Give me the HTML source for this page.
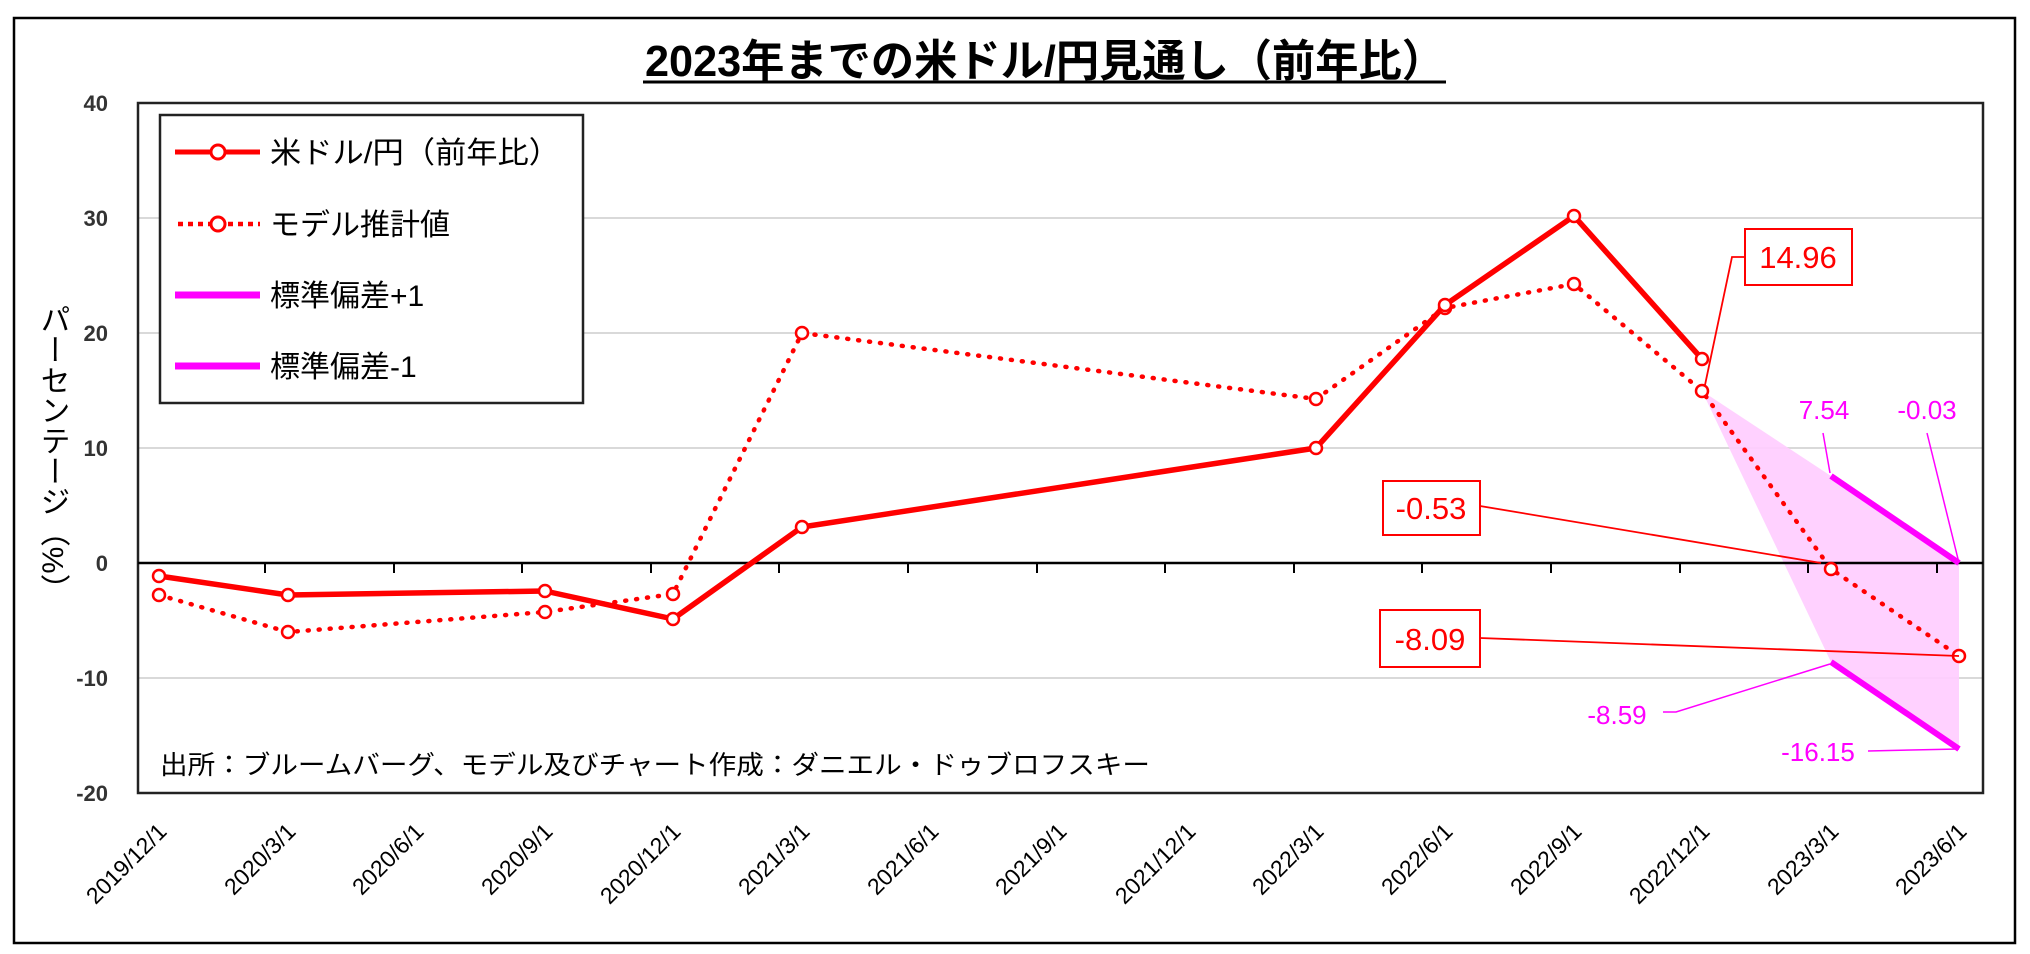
<!DOCTYPE html>
<html><head><meta charset="utf-8"><style>
html,body{margin:0;padding:0;background:#fff;}
svg{display:block;}
text{font-family:"Liberation Sans","Noto Sans CJK JP",sans-serif;}
</style></head><body>
<svg width="2030" height="954" viewBox="0 0 2030 954" xmlns="http://www.w3.org/2000/svg">
<rect x="0" y="0" width="2030" height="954" fill="#fff"/>
<rect x="14" y="18" width="2001" height="925" fill="none" stroke="#000" stroke-width="2.5"/>
<text x="1045" y="76" text-anchor="middle" font-size="44" font-weight="bold" textLength="800" lengthAdjust="spacingAndGlyphs">2023年までの米ドル/円見通し（前年比）</text>
<line x1="643" y1="82" x2="1446" y2="82" stroke="#000" stroke-width="3"/>
<g stroke="#d9d9d9" stroke-width="2">
<line x1="138" y1="218" x2="1983" y2="218"/>
<line x1="138" y1="333" x2="1983" y2="333"/>
<line x1="138" y1="448" x2="1983" y2="448"/>
<line x1="138" y1="678" x2="1983" y2="678"/>
</g>
<rect x="138" y="103" width="1845" height="690" fill="none" stroke="#222" stroke-width="2.5"/>
<g font-size="22" font-weight="bold" fill="#333" text-anchor="end">
<text x="108" y="111">40</text>
<text x="108" y="226">30</text>
<text x="108" y="341">20</text>
<text x="108" y="456">10</text>
<text x="108" y="571">0</text>
<text x="108" y="686">-10</text>
<text x="108" y="801">-20</text>
</g>
<text x="52" y="304" font-size="30" fill="#000" style="writing-mode:vertical-rl;writing-mode:tb" textLength="300" lengthAdjust="spacingAndGlyphs">パーセンテージ（%）</text>
<polygon points="1702,391 1831,476 1959,563 1959,749 1831,662" fill="#ffccff" opacity="0.9"/>
<line x1="138" y1="563" x2="1983" y2="563" stroke="#000" stroke-width="2.5"/>
<g stroke="#000" stroke-width="2">
<line x1="265" y1="563" x2="265" y2="573"/><line x1="394" y1="563" x2="394" y2="573"/><line x1="522" y1="563" x2="522" y2="573"/><line x1="651" y1="563" x2="651" y2="573"/><line x1="779" y1="563" x2="779" y2="573"/><line x1="908" y1="563" x2="908" y2="573"/><line x1="1037" y1="563" x2="1037" y2="573"/><line x1="1165" y1="563" x2="1165" y2="573"/><line x1="1294" y1="563" x2="1294" y2="573"/><line x1="1422" y1="563" x2="1422" y2="573"/><line x1="1551" y1="563" x2="1551" y2="573"/><line x1="1680" y1="563" x2="1680" y2="573"/><line x1="1808" y1="563" x2="1808" y2="573"/><line x1="1937" y1="563" x2="1937" y2="573"/>
</g>
<line x1="1831" y1="476" x2="1959" y2="563" stroke="#ff00ff" stroke-width="6"/>
<line x1="1831" y1="662" x2="1959" y2="749" stroke="#ff00ff" stroke-width="6"/>
<polyline points="159,595 288,632 545,612 673,594 802,333 1316,399 1445,308 1574,284 1702,391 1831,569 1959,656" fill="none" stroke="#ff0000" stroke-width="4.5" stroke-dasharray="1 10" stroke-linecap="round"/>
<polyline points="159,576 288,595 545,591 673,619 802,527 1316,448 1445,305 1574,216 1702,359" fill="none" stroke="#ff0000" stroke-width="5.5" stroke-linejoin="round"/>
<g fill="#fff" stroke="#ff0000" stroke-width="2.5">
<circle cx="159" cy="595" r="6"/><circle cx="288" cy="632" r="6"/><circle cx="545" cy="612" r="6"/><circle cx="673" cy="594" r="6"/><circle cx="802" cy="333" r="6"/><circle cx="1316" cy="399" r="6"/><circle cx="1445" cy="308" r="6"/><circle cx="1574" cy="284" r="6"/><circle cx="1702" cy="391" r="6"/><circle cx="1831" cy="569" r="6"/><circle cx="1959" cy="656" r="6"/>
<circle cx="159" cy="576" r="6"/><circle cx="288" cy="595" r="6"/><circle cx="545" cy="591" r="6"/><circle cx="673" cy="619" r="6"/><circle cx="802" cy="527" r="6"/><circle cx="1316" cy="448" r="6"/><circle cx="1445" cy="305" r="6"/><circle cx="1574" cy="216" r="6"/><circle cx="1702" cy="359" r="6"/>
</g>
<g stroke="#ff0000" stroke-width="1.8" fill="none">
<polyline points="1745,257 1732,257 1705,385"/>
<line x1="1480" y1="506" x2="1821" y2="563"/>
<line x1="1480" y1="638" x2="1959" y2="656"/>
</g>
<g fill="#fff" stroke="#ff0000" stroke-width="2">
<rect x="1745" y="229" width="107" height="56"/>
<rect x="1383" y="481" width="97" height="54"/>
<rect x="1380" y="610" width="100" height="57"/>
</g>
<g fill="#ff0000" font-size="31" text-anchor="middle">
<text x="1798" y="268">14.96</text>
<text x="1431" y="519">-0.53</text>
<text x="1430" y="650">-8.09</text>
</g>
<g stroke="#ff00ff" stroke-width="1.5" fill="none">
<line x1="1823" y1="433" x2="1830" y2="473"/>
<line x1="1927" y1="433" x2="1959" y2="563"/>
<polyline points="1663,712 1676,712 1830,664"/>
<polyline points="1868,751 1959,749"/>
</g>
<g fill="#ff00ff" font-size="26" text-anchor="middle">
<text x="1824" y="419">7.54</text>
<text x="1927" y="419">-0.03</text>
<text x="1617" y="724">-8.59</text>
<text x="1818" y="761">-16.15</text>
</g>
<rect x="160" y="115" width="423" height="288" fill="#fff" stroke="#222" stroke-width="2.5"/>
<line x1="175" y1="152" x2="260" y2="152" stroke="#ff0000" stroke-width="5"/>
<circle cx="218" cy="152" r="7" fill="#fff" stroke="#ff0000" stroke-width="3"/>
<line x1="178" y1="224" x2="260" y2="224" stroke="#ff0000" stroke-width="4.5" stroke-dasharray="5 5"/>
<circle cx="218" cy="224" r="7" fill="#fff" stroke="#ff0000" stroke-width="3"/>
<line x1="175" y1="295" x2="260" y2="295" stroke="#ff00ff" stroke-width="7"/>
<line x1="175" y1="366" x2="260" y2="366" stroke="#ff00ff" stroke-width="7"/>
<g font-size="30" fill="#000">
<text x="270" y="163" textLength="290" lengthAdjust="spacingAndGlyphs">米ドル/円（前年比）</text>
<text x="270" y="235">モデル推計値</text>
<text x="270" y="306">標準偏差+1</text>
<text x="270" y="377">標準偏差-1</text>
</g>
<text x="160" y="774" font-size="26" fill="#000" textLength="990" lengthAdjust="spacingAndGlyphs">出所：ブルームバーグ、モデル及びチャート作成：ダニエル・ドゥブロフスキー</text>
<g font-size="23" fill="#000" text-anchor="end">
<text transform="translate(168,833) rotate(-45)">2019/12/1</text>
<text transform="translate(297,833) rotate(-45)">2020/3/1</text>
<text transform="translate(425,833) rotate(-45)">2020/6/1</text>
<text transform="translate(554,833) rotate(-45)">2020/9/1</text>
<text transform="translate(682,833) rotate(-45)">2020/12/1</text>
<text transform="translate(811,833) rotate(-45)">2021/3/1</text>
<text transform="translate(940,833) rotate(-45)">2021/6/1</text>
<text transform="translate(1068,833) rotate(-45)">2021/9/1</text>
<text transform="translate(1197,833) rotate(-45)">2021/12/1</text>
<text transform="translate(1325,833) rotate(-45)">2022/3/1</text>
<text transform="translate(1454,833) rotate(-45)">2022/6/1</text>
<text transform="translate(1583,833) rotate(-45)">2022/9/1</text>
<text transform="translate(1711,833) rotate(-45)">2022/12/1</text>
<text transform="translate(1840,833) rotate(-45)">2023/3/1</text>
<text transform="translate(1968,833) rotate(-45)">2023/6/1</text>
</g>
</svg>
</body></html>
